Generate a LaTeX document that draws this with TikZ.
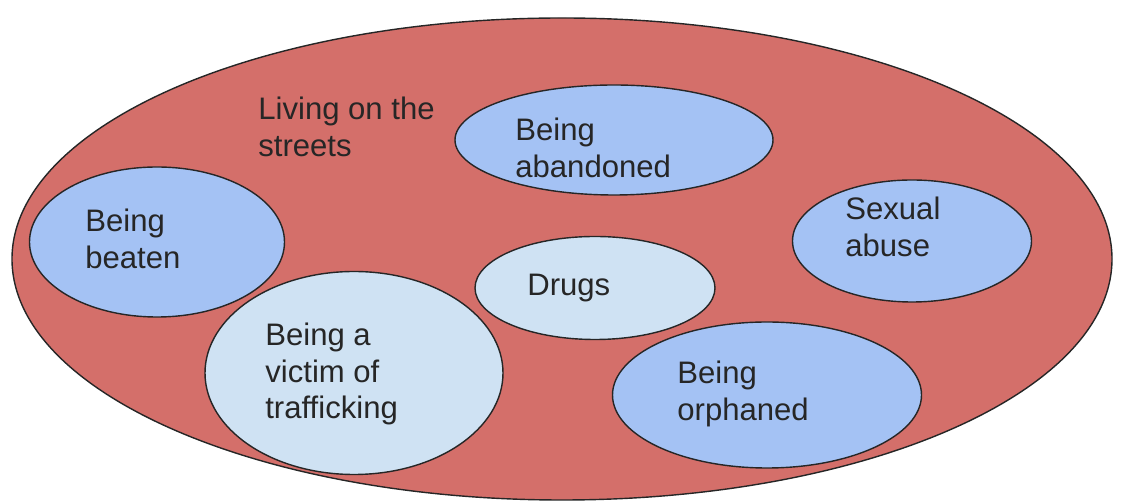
\documentclass[tikz,border=0pt]{standalone}
\usepackage{fontspec}
\setmainfont{Liberation Sans}
\usepackage{tikz}
\usepackage{xcolor}
\usetikzlibrary{shapes}
\definecolor{street}{RGB}{212,111,106}
\definecolor{deepblue}{RGB}{164,194,244}
\definecolor{paleblue}{RGB}{207,226,243}
\tikzset{bubble/.style={ellipse, draw=black!85, line width=0.8pt, inner sep=0pt},
 lbl/.style={anchor=west, align=left, inner sep=0pt, text=black!85,
 font=\fontsize{17.7}{21}\selectfont},
 }

\begin{document}
\begin{tikzpicture}[x=0.02cm, y=-0.02cm]
        \useasboundingbox (0,0) rectangle (1126,502);
        \node[bubble, fill=street, minimum width=1100*0.02cm, minimum height=482*0.02cm] (streets) at (562,259) {};
        \foreach \name/\x/\y/\w/\h/\col in {abandoned/614/140/318/110/deepblue,
            beaten/157/242/255/150/deepblue, sexual/912/241/239/122/deepblue,
            drugs/595/288/240/103/paleblue, trafficking/354/373/298/203/paleblue,
            orphaned/767/395/309/146/deepblue} {
            \node[bubble, fill=\col, minimum width=\w*0.02cm, minimum height=\h*0.02cm] (\name) at (\x,\y) {};
        }
        \node[lbl] (t-streets) at (258,127) {Living on the\\streets};
        \node[lbl] (t-abandoned) at (515,148) {Being\\abandoned};
        \node[lbl] (t-beaten) at (85,239) {Being\\beaten};
        \node[lbl] (t-sexual) at (845,227) {Sexual\\abuse};
        \node[lbl] (t-drugs) at (527,288) {Drugs};
        \node[lbl] (t-trafficking) at (265,374) {Being a\\victim of\\trafficking};
        \node[lbl] (t-orphaned) at (677,394) {Being\\orphaned};
    \end{tikzpicture}
\end{document}
